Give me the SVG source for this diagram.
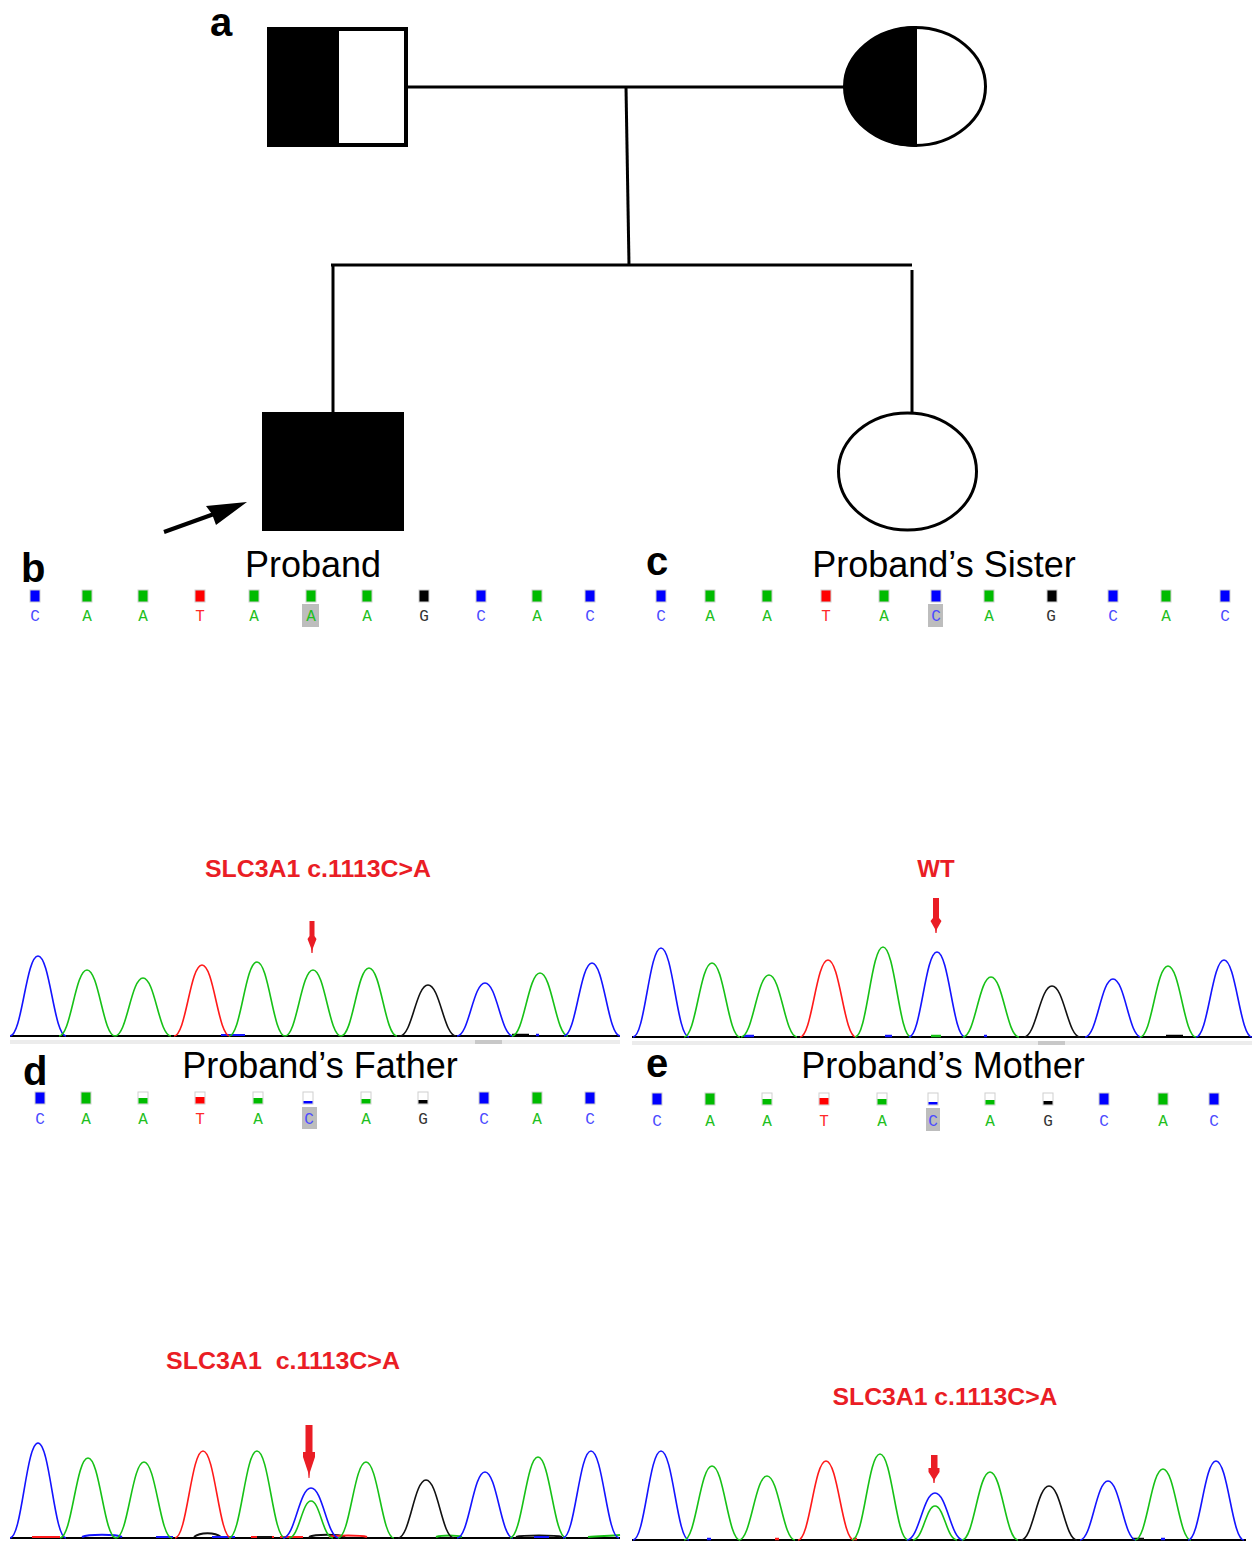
<svg xmlns="http://www.w3.org/2000/svg" width="1258" height="1541" viewBox="0 0 1258 1541">
<style>
.lbl{font-family:"Liberation Sans",Arial,sans-serif;font-weight:bold;font-size:40px;fill:#000}
.ttl{font-family:"Liberation Sans",Arial,sans-serif;font-size:36px;fill:#000;text-anchor:middle}
.red{font-family:"Liberation Sans",Arial,sans-serif;font-weight:bold;font-size:24px;fill:#ea1d25;text-anchor:middle}
.ped{stroke:#000;stroke-width:3;fill:none}
.bc{font-family:"Liberation Mono","Courier New",monospace;font-size:16px;text-anchor:middle}
.tC{fill:#4b4bff}.tA{fill:#1fbf1f}.tT{fill:#ff2a2a}.tG{fill:#333}
.sq{stroke:#cfcfcf;stroke-width:1}
.fC{fill:#0000ff}.fA{fill:#00bb00}.fT{fill:#ff0000}.fG{fill:#000}.fW{fill:#fff}
.hl{fill:#bdbdbd}
.pk{fill:none;stroke-width:1.6;stroke-linejoin:round}
.pB{stroke:#1414ff}.pG{stroke:#17c117}.pR{stroke:#ff1a1a}.pK{stroke:#111}
.base{stroke:#000;stroke-width:2}
.arr{fill:#ea1d25}
</style>

<g id="pedigree">
  <g id="father">
    <rect x="269" y="29" width="137" height="116" fill="#fff" stroke="#000" stroke-width="4"/>
    <rect x="267" y="27" width="72" height="120" fill="#000"/>
  </g>
  <g id="mother">
    <ellipse cx="915" cy="86.5" rx="70.5" ry="59" fill="#fff" stroke="#000" stroke-width="3"/>
    <path d="M917,26 A72,60.5 0 0 0 917,147 Z" fill="#000"/>
  </g>
  <g id="proband">
    <rect x="262" y="412" width="142" height="119" fill="#000"/>
  </g>
  <g id="sister">
    <ellipse cx="907.5" cy="471.5" rx="69" ry="58.5" fill="#fff" stroke="#000" stroke-width="3"/>
  </g>
  <g id="proband-arrow">
    <line x1="164" y1="532" x2="214" y2="514" stroke="#000" stroke-width="4"/>
    <polygon points="247,502 206,506 212,514 216,525" fill="#000"/>
  </g>
</g>
<g id="connectors">
  <line class="ped" x1="406" y1="87" x2="845" y2="87"/>
  <line class="ped" x1="626" y1="87" x2="629" y2="265"/>
  <line class="ped" x1="331" y1="265" x2="912" y2="265"/>
  <line class="ped" x1="333" y1="264" x2="333" y2="413"/>
  <line class="ped" x1="912" y1="270" x2="912" y2="412"/>
</g>

<g id="labels">
  <text class="lbl" x="210" y="36">a</text>
  <text class="lbl" x="21" y="582">b</text>
  <text class="lbl" x="646" y="575">c</text>
  <text class="lbl" x="23" y="1085">d</text>
  <text class="lbl" x="646" y="1077">e</text>
  <text class="ttl" x="313" y="577">Proband</text>
  <text class="ttl" x="944" y="577">Proband’s Sister</text>
  <text class="ttl" x="320" y="1078">Proband’s Father</text>
  <text class="ttl" x="943" y="1078">Proband’s Mother</text>
  <text class="red" x="318" y="877" textLength="226" lengthAdjust="spacingAndGlyphs">SLC3A1 c.1113C&gt;A</text>
  <text class="red" x="936" y="877">WT</text>
  <text class="red" x="283" y="1369" textLength="234" lengthAdjust="spacingAndGlyphs" xml:space="preserve">SLC3A1  c.1113C&gt;A</text>
  <text class="red" x="945" y="1405" textLength="225" lengthAdjust="spacingAndGlyphs">SLC3A1 c.1113C&gt;A</text>
</g>

<!-- Panel b base calls -->
<g id="calls-b">
  <rect class="hl" x="302" y="604" width="17" height="23"/>
  <rect class="sq fC" x="30" y="590" width="10" height="12"/>
  <rect class="sq fA" x="82" y="590" width="10" height="12"/>
  <rect class="sq fA" x="138" y="590" width="10" height="12"/>
  <rect class="sq fT" x="195" y="590" width="10" height="12"/>
  <rect class="sq fA" x="249" y="590" width="10" height="12"/>
  <rect class="sq fA" x="306" y="590" width="10" height="12"/>
  <rect class="sq fA" x="362" y="590" width="10" height="12"/>
  <rect class="sq fG" x="419" y="590" width="10" height="12"/>
  <rect class="sq fC" x="476" y="590" width="10" height="12"/>
  <rect class="sq fA" x="532" y="590" width="10" height="12"/>
  <rect class="sq fC" x="585" y="590" width="10" height="12"/>
  <text class="bc tC" x="35" y="621">C</text>
  <text class="bc tA" x="87" y="621">A</text>
  <text class="bc tA" x="143" y="621">A</text>
  <text class="bc tT" x="200" y="621">T</text>
  <text class="bc tA" x="254" y="621">A</text>
  <text class="bc tA" x="311" y="621">A</text>
  <text class="bc tA" x="367" y="621">A</text>
  <text class="bc tG" x="424" y="621">G</text>
  <text class="bc tC" x="481" y="621">C</text>
  <text class="bc tA" x="537" y="621">A</text>
  <text class="bc tC" x="590" y="621">C</text>
</g>

<!-- Panel c base calls -->
<g id="calls-c">
  <rect class="hl" x="928" y="604" width="15" height="23"/>
  <rect class="sq fC" x="656" y="590" width="10" height="12"/>
  <rect class="sq fA" x="705" y="590" width="10" height="12"/>
  <rect class="sq fA" x="762" y="590" width="10" height="12"/>
  <rect class="sq fT" x="821" y="590" width="10" height="12"/>
  <rect class="sq fA" x="879" y="590" width="10" height="12"/>
  <rect class="sq fC" x="931" y="590" width="10" height="12"/>
  <rect class="sq fA" x="984" y="590" width="10" height="12"/>
  <rect class="sq fG" x="1047" y="590" width="10" height="12"/>
  <rect class="sq fC" x="1108" y="590" width="10" height="12"/>
  <rect class="sq fA" x="1161" y="590" width="10" height="12"/>
  <rect class="sq fC" x="1220" y="590" width="10" height="12"/>
  <text class="bc tC" x="661" y="621">C</text>
  <text class="bc tA" x="710" y="621">A</text>
  <text class="bc tA" x="767" y="621">A</text>
  <text class="bc tT" x="826" y="621">T</text>
  <text class="bc tA" x="884" y="621">A</text>
  <text class="bc tC" x="936" y="621">C</text>
  <text class="bc tA" x="989" y="621">A</text>
  <text class="bc tG" x="1051" y="621">G</text>
  <text class="bc tC" x="1113" y="621">C</text>
  <text class="bc tA" x="1166" y="621">A</text>
  <text class="bc tC" x="1225" y="621">C</text>
</g>

<!-- Panel d base calls -->
<g id="calls-d">
  <rect class="hl" x="302" y="1107" width="15" height="22"/>
  <rect class="sq fC" x="35" y="1092" width="10" height="12"/>
  <rect class="sq fA" x="81" y="1092" width="10" height="12"/>
  <rect class="sq fW" x="138" y="1092" width="10" height="12"/><rect class="fA" x="138.5" y="1098" width="9" height="5.5"/>
  <rect class="sq fW" x="195" y="1092" width="10" height="12"/><rect class="fT" x="195.5" y="1097" width="9" height="6.5"/>
  <rect class="sq fW" x="253" y="1092" width="10" height="12"/><rect class="fA" x="253.5" y="1098" width="9" height="5.5"/>
  <rect class="sq fW" x="303" y="1092" width="10" height="12"/><rect class="fC" x="303.5" y="1101" width="9" height="2.5"/>
  <rect class="sq fW" x="361" y="1092" width="10" height="12"/><rect class="fA" x="361.5" y="1099" width="9" height="4.5"/>
  <rect class="sq fW" x="418" y="1092" width="10" height="12"/><rect class="fG" x="418.5" y="1100" width="9" height="3.5"/>
  <rect class="sq fC" x="479" y="1092" width="10" height="12"/>
  <rect class="sq fA" x="532" y="1092" width="10" height="12"/>
  <rect class="sq fC" x="585" y="1092" width="10" height="12"/>
  <text class="bc tC" x="40" y="1124">C</text>
  <text class="bc tA" x="86" y="1124">A</text>
  <text class="bc tA" x="143" y="1124">A</text>
  <text class="bc tT" x="200" y="1124">T</text>
  <text class="bc tA" x="258" y="1124">A</text>
  <text class="bc tC" x="309" y="1124">C</text>
  <text class="bc tA" x="366" y="1124">A</text>
  <text class="bc tG" x="423" y="1124">G</text>
  <text class="bc tC" x="484" y="1124">C</text>
  <text class="bc tA" x="537" y="1124">A</text>
  <text class="bc tC" x="590" y="1124">C</text>
</g>

<!-- Panel e base calls -->
<g id="calls-e">
  <rect class="hl" x="926" y="1108" width="14" height="23"/>
  <rect class="sq fC" x="652" y="1093" width="10" height="12"/>
  <rect class="sq fA" x="705" y="1093" width="10" height="12"/>
  <rect class="sq fW" x="762" y="1093" width="10" height="12"/><rect class="fA" x="762.5" y="1099" width="9" height="5.5"/>
  <rect class="sq fW" x="819" y="1093" width="10" height="12"/><rect class="fT" x="819.5" y="1098" width="9" height="6.5"/>
  <rect class="sq fW" x="877" y="1093" width="10" height="12"/><rect class="fA" x="877.5" y="1099" width="9" height="5.5"/>
  <rect class="sq fW" x="928" y="1093" width="10" height="12"/><rect class="fC" x="928.5" y="1102" width="9" height="2.5"/>
  <rect class="sq fW" x="985" y="1093" width="10" height="12"/><rect class="fA" x="985.5" y="1100" width="9" height="4.5"/>
  <rect class="sq fW" x="1043" y="1093" width="10" height="12"/><rect class="fG" x="1043.5" y="1101" width="9" height="3.5"/>
  <rect class="sq fC" x="1099" y="1093" width="10" height="12"/>
  <rect class="sq fA" x="1158" y="1093" width="10" height="12"/>
  <rect class="sq fC" x="1209" y="1093" width="10" height="12"/>
  <text class="bc tC" x="657" y="1126">C</text>
  <text class="bc tA" x="710" y="1126">A</text>
  <text class="bc tA" x="767" y="1126">A</text>
  <text class="bc tT" x="824" y="1126">T</text>
  <text class="bc tA" x="882" y="1126">A</text>
  <text class="bc tC" x="933" y="1126">C</text>
  <text class="bc tA" x="990" y="1126">A</text>
  <text class="bc tG" x="1048" y="1126">G</text>
  <text class="bc tC" x="1104" y="1126">C</text>
  <text class="bc tA" x="1163" y="1126">A</text>
  <text class="bc tC" x="1214" y="1126">C</text>
</g>

<!-- Chromatogram b -->
<g id="trace-b">
  <rect x="10" y="1040" width="610" height="4" fill="#ececec"/>
  <rect x="475" y="1040" width="27" height="4" fill="#c8c8c8"/>
  <line class="base" x1="10" y1="1036" x2="620" y2="1036"/>
  <line x1="221" y1="1035" x2="245" y2="1035" stroke="#1414ff" stroke-width="2"/>
  <line x1="512" y1="1035" x2="529" y2="1035" stroke="#000" stroke-width="2.5"/>
  <line x1="536" y1="1035" x2="539" y2="1035" stroke="#1414ff" stroke-width="2.5"/>
  <path class="pk pB" d="M10,1036 C22,1036 26,956 38,956 C50,956 54,1036 66,1036"/>
  <path class="pk pG" d="M59,1036 C71,1036 75,970 87,970 C99,970 103,1036 115,1036"/>
  <path class="pk pG" d="M115,1036 C127,1036 131,978 143,978 C155,978 159,1036 171,1036"/>
  <path class="pk pR" d="M174,1036 C186,1036 190,965 202,965 C214,965 218,1036 230,1036"/>
  <path class="pk pG" d="M229,1036 C241,1036 245,962 257,962 C269,962 273,1036 285,1036"/>
  <path class="pk pG" d="M285,1036 C297,1036 301,970 313,970 C325,970 329,1036 341,1036"/>
  <path class="pk pG" d="M341,1036 C353,1036 357,968 369,968 C381,968 385,1036 397,1036"/>
  <path class="pk pK" d="M400,1036 C412,1036 416,985 428,985 C440,985 444,1036 456,1036"/>
  <path class="pk pB" d="M457,1036 C469,1036 473,983 485,983 C497,983 501,1036 513,1036"/>
  <path class="pk pG" d="M512,1036 C524,1036 528,973 540,973 C552,973 556,1036 568,1036"/>
  <path class="pk pB" d="M564,1036 C576,1036 580,963 592,963 C604,963 608,1036 620,1036"/>
  <polygon class="arr" points="309.5,921 314.5,921 314.5,936 316.5,939 313,948 312.6,953 311.4,953 311,948 307.5,939 309.5,936"/>
</g>

<!-- Chromatogram c -->
<g id="trace-c">
  <rect x="632" y="1041" width="620" height="4" fill="#ececec"/>
  <rect x="1038" y="1041" width="27" height="4" fill="#c8c8c8"/>
  <line class="base" x1="632" y1="1037" x2="1252" y2="1037"/>
  <line x1="744" y1="1036" x2="754" y2="1036" stroke="#1414ff" stroke-width="2.5"/>
  <line x1="885" y1="1036" x2="892" y2="1036" stroke="#1414ff" stroke-width="2.5"/>
  <line x1="931" y1="1036" x2="941" y2="1036" stroke="#17c117" stroke-width="2.5"/>
  <line x1="984" y1="1036" x2="987" y2="1036" stroke="#1414ff" stroke-width="2.5"/>
  <line x1="1166" y1="1036" x2="1183" y2="1036" stroke="#000" stroke-width="2.5"/>
  <path class="pk pB" d="M633,1037 C645,1037 649,948 661,948 C673,948 677,1037 689,1037"/>
  <path class="pk pG" d="M684,1037 C696,1037 700,963 712,963 C724,963 728,1037 740,1037"/>
  <path class="pk pG" d="M741,1037 C753,1037 757,975 769,975 C781,975 785,1037 797,1037"/>
  <path class="pk pR" d="M800,1037 C812,1037 816,960 828,960 C840,960 844,1037 856,1037"/>
  <path class="pk pG" d="M855,1037 C867,1037 871,947 883,947 C895,947 899,1037 911,1037"/>
  <path class="pk pB" d="M909,1037 C921,1037 925,952 937,952 C949,952 953,1037 965,1037"/>
  <path class="pk pG" d="M963,1037 C975,1037 979,977 991,977 C1003,977 1007,1037 1019,1037"/>
  <path class="pk pK" d="M1024,1037 C1036,1037 1040,986 1052,986 C1064,986 1068,1037 1080,1037"/>
  <path class="pk pB" d="M1085,1037 C1097,1037 1101,979 1113,979 C1125,979 1129,1037 1141,1037"/>
  <path class="pk pG" d="M1140,1037 C1152,1037 1156,966 1168,966 C1180,966 1184,1037 1196,1037"/>
  <path class="pk pB" d="M1196,1037 C1208,1037 1212,960 1224,960 C1236,960 1240,1037 1252,1037"/>
  <polygon class="arr" points="933,898 939,898 939,918 941.5,921 937,929 936.6,933 935.4,933 935,929 930.5,921 933,918"/>
</g>

<!-- Chromatogram d -->
<g id="trace-d">
  <line class="base" x1="10" y1="1538" x2="620" y2="1538"/>
  <g stroke-width="2" fill="none">
    <path d="M32,1537 H60" stroke="#ff1a1a"/>
    <path d="M82,1537 C88,1534 116,1534 122,1537" stroke="#1414ff"/>
    <path d="M156,1537 H173" stroke="#1414ff"/>
    <path d="M194,1537 C200,1532 215,1532 221,1537" stroke="#111"/>
    <path d="M212,1537 H235" stroke="#1414ff"/>
    <path d="M251,1537 H274" stroke="#ff1a1a"/>
    <path d="M257,1537 H272" stroke="#111"/>
    <path d="M280,1537 H303" stroke="#ff1a1a"/>
    <path d="M309,1537 C315,1534 339,1534 345,1537" stroke="#111"/>
    <path d="M329,1537 C335,1535 361,1535 367,1537" stroke="#ff1a1a"/>
    <path d="M436,1537 C442,1535 456,1535 462,1537" stroke="#17c117"/>
    <path d="M516,1537 C522,1535 556,1535 562,1537" stroke="#111"/>
    <path d="M534,1537 H549" stroke="#1414ff"/>
    <path d="M588,1537 C600,1536 612,1536 620,1535" stroke="#17c117"/>
  </g>
  <path class="pk pB" d="M10,1538 C22,1538 26,1443 38,1443 C50,1443 54,1538 66,1538"/>
  <path class="pk pG" d="M60,1538 C72,1538 76,1458 88,1458 C100,1458 104,1538 116,1538"/>
  <path class="pk pG" d="M116,1538 C128,1538 132,1462 144,1462 C156,1462 160,1538 172,1538"/>
  <path class="pk pR" d="M175,1538 C187,1538 191,1451 203,1451 C215,1451 219,1538 231,1538"/>
  <path class="pk pG" d="M229,1538 C241,1538 245,1451 257,1451 C269,1451 273,1538 285,1538"/>
  <path class="pk pB" d="M283,1538 C295,1538 299,1488 311,1488 C323,1488 327,1538 339,1538"/>
  <path class="pk pG" d="M289,1538 C299,1538 302,1501 311,1501 C320,1501 323,1538 333,1538"/>
  <path class="pk pG" d="M338,1538 C350,1538 354,1462 366,1462 C378,1462 382,1538 394,1538"/>
  <path class="pk pK" d="M398,1538 C410,1538 414,1480 426,1480 C438,1480 442,1538 454,1538"/>
  <path class="pk pB" d="M457,1538 C469,1538 473,1472 485,1472 C497,1472 501,1538 513,1538"/>
  <path class="pk pG" d="M510,1538 C522,1538 526,1457 538,1457 C550,1457 554,1538 566,1538"/>
  <path class="pk pB" d="M563,1538 C575,1538 579,1451 591,1451 C603,1451 607,1538 619,1538"/>
  <polygon class="arr" points="305.5,1425 312.5,1425 312.5,1452 315,1452 315,1457 310,1472 309.5,1478 308.5,1478 308,1472 303,1457 303,1452 305.5,1452"/>
</g>

<!-- Chromatogram e -->
<g id="trace-e">
  <line class="base" x1="632" y1="1540" x2="1246" y2="1540"/>
  <g stroke-width="2.5" fill="none">
    <path d="M707,1539 H711" stroke="#1414ff"/>
    <path d="M775,1539 H779" stroke="#ff1a1a"/>
    <path d="M853,1539 H857" stroke="#ff1a1a"/>
    <path d="M1132,1539 H1144" stroke="#111"/>
    <path d="M1161,1539 H1165" stroke="#1414ff"/>
  </g>
  <path class="pk pB" d="M633,1540 C645,1540 649,1451 661,1451 C673,1451 677,1540 689,1540"/>
  <path class="pk pG" d="M684,1540 C696,1540 700,1466 712,1466 C724,1466 728,1540 740,1540"/>
  <path class="pk pG" d="M739,1540 C751,1540 755,1476 767,1476 C779,1476 783,1540 795,1540"/>
  <path class="pk pR" d="M798,1540 C810,1540 814,1461 826,1461 C838,1461 842,1540 854,1540"/>
  <path class="pk pG" d="M852,1540 C864,1540 868,1454 880,1454 C892,1454 896,1540 908,1540"/>
  <path class="pk pB" d="M907,1540 C919,1540 923,1493 935,1493 C947,1493 951,1540 963,1540"/>
  <path class="pk pG" d="M913,1540 C923,1540 926,1506 935,1506 C944,1506 947,1540 957,1540"/>
  <path class="pk pG" d="M962,1540 C974,1540 978,1472 990,1472 C1002,1472 1006,1540 1018,1540"/>
  <path class="pk pK" d="M1021,1540 C1033,1540 1037,1486 1049,1486 C1061,1486 1065,1540 1077,1540"/>
  <path class="pk pB" d="M1080,1540 C1092,1540 1096,1481 1108,1481 C1120,1481 1124,1540 1136,1540"/>
  <path class="pk pG" d="M1135,1540 C1147,1540 1151,1469 1163,1469 C1175,1469 1179,1540 1191,1540"/>
  <path class="pk pB" d="M1188,1540 C1200,1540 1204,1461 1216,1461 C1228,1461 1232,1540 1244,1540"/>
  <polygon class="arr" points="931,1455 937.5,1455 937.5,1468 939.5,1468 939.5,1472 935,1479 934.6,1483 933.4,1483 933,1479 928.5,1472 928.5,1468 931,1468"/>
</g>
</svg>
